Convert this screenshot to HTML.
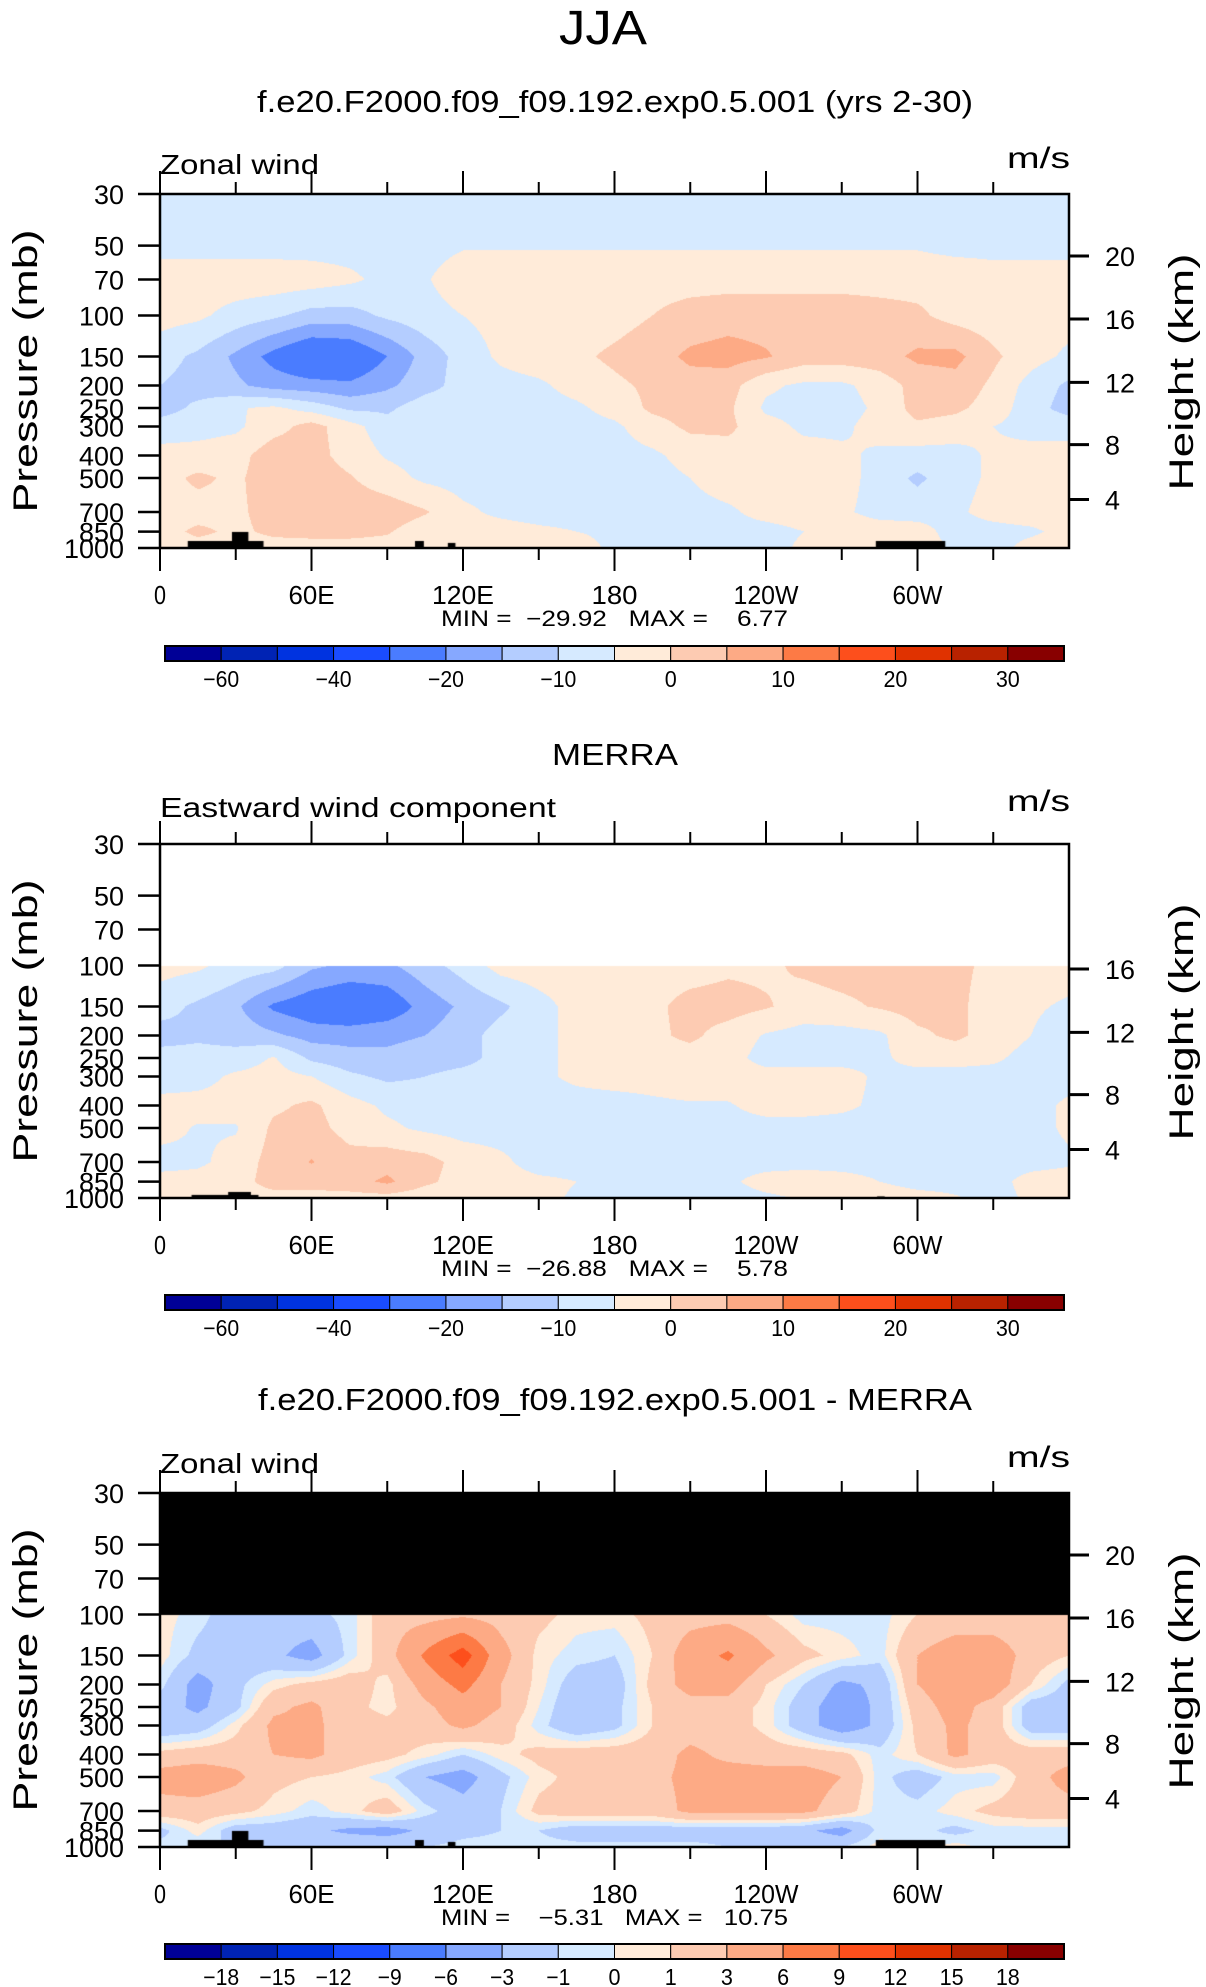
<!DOCTYPE html>
<html><head><meta charset="utf-8"><title>JJA Zonal wind</title>
<style>
html,body{margin:0;padding:0;background:#fff;}
#wrap{position:relative;width:1206px;height:1987px;overflow:hidden;background:#fff;}
canvas{position:absolute;}
svg{position:absolute;left:0;top:0;}
text{font-family:"Liberation Sans",sans-serif;fill:#000;white-space:pre;}
</style></head>
<body>
<div id="wrap">
<canvas id="c1"></canvas>
<canvas id="c2"></canvas>
<canvas id="c3"></canvas>
<svg id="svg" width="1206" height="1987"></svg>
</div>
<script>
// ---------- data ----------
const lons = [0,15,30,45,60,75,90,105,120,135,150,165,180,195,210,225,240,255,270,285,300,315,330,345,360];
const pressures = [30,50,70,100,150,200,250,300,400,500,700,850,1000];
const windLevels = [-60,-50,-40,-30,-20,-15,-10,-5,0,5,10,15,20,25,30];
const windLabels = ["-60","-40","-20","-10","0","10","20","30"];
const windLabelIdx = [0,2,4,6,8,10,12,14];
const diffLevels = [-18,-15,-12,-9,-6,-3,-1,0,1,3,6,9,12,15,18];
const diffLabels = ["-18","-15","-12","-9","-6","-3","-1","0","1","3","6","9","12","15","18"];
const diffLabelIdx = [0,1,2,3,4,5,6,7,8,9,10,11,12,13,14];
const fillColors = ['#000096','#0023b4','#0033e0','#1a4cff','#4a7cff','#86a8ff','#b4cdff','#d6eaff','#ffebd9','#fdcbb2','#fdaa85','#fd7a45','#fd4f1c','#e03200','#b82200','#880000'];

const modelWind = [
 [-7,-7,-7,-7,-7,-7,-7,-7,-7,-7,-7,-7,-7,-7,-7,-7,-7,-7,-7,-7,-7,-7,-7,-7,-7],
 [-7,-7,-7,-7,-7,-7,-7,-7,-5.5,-5.5,-5.5,-5.5,-5.5,-5.5,-5.5,-5.5,-5.5,-5.5,-5.5,-5.5,-5.5,-6.5,-6.5,-6.5,-6.5],
 [-2,-2,-2,-2,-2.5,-4,-6.5,-5.5,-2,-2,-2,-2,-2,-2,-2,-2,-2,-2,-2,-2,-2,-2,-3,-3,-3],
 [-3,-4,-7,-9,-12,-12,-9,-7,-5,-3,-3,-3,-2,0,2,3,3,3,3,2,1,-2,-3,-3,-3],
 [-8,-11,-16,-22,-27,-26,-20,-13,-8,-4,-2,-1,1,3,6,7,5.5,2.5,2.5,3,6,6.5,1,-3,-6],
 [-10,-12,-14,-17,-18,-19,-16,-12,-8,-7,-6,-3,-1,1,3,2,-4,-6,-6,-3,2,3,-1,-7,-11],
 [-12,-9,-5.5,-4,-7,-11,-11,-7,-7,-7,-7,-6,-3,1,2,1,-6,-7,-7,-4,2,1,-2,-8,-12],
 [-8,-7,-6,-2,2,-3,-8,-7,-7,-7,-7,-7,-6,-2,1,1,-3,-6,-6,-3,-1,-2,-5,-7,-7],
 [-3,-3,-2,3,2,-2,-5.5,-7,-7,-7,-7,-7,-7,-6,-3,-2,-2,-3,-4,-6,-7,-7,-4,-3,-3],
 [-2,1,-1,3,3,0.5,-3,-6,-7,-7,-7,-7,-7,-7,-5,-2,-2,-2,-3,-7,-11,-7,-4,-2,-2],
 [-2,-2,-1,2,3,3,3,0.5,-4,-6,-7,-7,-7,-7,-7,-6,-3,-2,-4,-7,-7,-6,-3,-2,-2],
 [-2,1,-1,1,1.5,1.5,0.5,-3,-3,-3,-4,-5,-6,-7,-7,-7,-7,-5,-2,-2,-3,-7,-7,-6,-3],
 [-2,-2,-2,-2,-2,-2,-2,-2,-3,-3,-3,-3,-6,-7,-7,-7,-7,-4,-2,-2,-2,-6,-7,-3,-2]
];
const merraWind = [
 null,null,null,
 [-3,-4,-7,-8,-14,-16,-16,-12,-8,-3,-2,-2,-2,-2,-2,-1,-1,1,2,2,2,1,-1,-2,-2],
 [-8,-11,-14,-21,-24,-26,-24,-18,-14,-11,-7,-3,-2,-1,1.5,2,0.5,-2,-1,0.5,2,1,-2,-4,-6],
 [-12,-11,-12,-14,-17,-17,-16,-15,-12,-8,-6,-4,-2,-1,1,-2,-5.5,-7,-7,-6,-1,1,-2,-5,-9],
 [-8,-8,-8,-4.5,-11,-13,-14,-13,-12,-8,-6,-4,-3,-2,-2,-3,-7,-7,-7,-6,-3,-3,-4,-7,-7],
 [-8,-7,-4,-3,-5,-9,-11,-10,-8,-7,-6,-4,-3,-3,-2,-2,-3,-3,-3,-6,-7,-7,-7,-7,-7],
 [-3,-3,-3,-1,1,-3,-6,-7,-7,-7,-7,-7,-7,-6,-5.5,-5.5,-3,-3,-4,-6,-7,-7,-7,-7,-4],
 [-3,-5.5,-5.5,1,2,-2,-4,-6,-7,-7,-7,-7,-7,-7,-7,-7,-7,-7,-7,-7,-7,-7,-7,-7,-4],
 [-7,-6,-3,2,5.3,2,3,2,-2,-4,-7,-7,-7,-7,-7,-7,-7,-7,-7,-7,-8,-7,-7,-7,-6],
 [-3,-3,-2,2,2,3,6,1,-2,-3,-4,-5,-7,-7,-7,-6,-3,-2,-3,-5,-7,-7,-7,-3,-2],
 [-2,-2,-2,-2,-2,-2,-2,-3,-3,-4,-4,-5.5,-6,-7,-7,-7,-6,-4.5,-2,-2,-3,-4.5,-7,-4,-2]
];
const diffWind = [
 null,null,null,
 [0.5,-0.5,-2,-2,-1.5,-0.5,2,2,2.5,2,1.5,0.5,0.5,1.5,2,2,1,-0.5,-0.5,-0.5,1,1.5,1.5,1.5,1],
 [0.5,-1.5,-2,-2.5,-4,-0.5,2,6.5,10.5,4,0.5,-0.5,-1,1,4.5,6.5,3.5,1.5,0.5,-0.5,3,4.5,4.5,2,1],
 [-0.5,-4,-1.5,0.5,1.5,2,0.5,4,7,3,0.5,-2,-2,1.5,4,4,1,-1,-3.5,-2.5,3,4.5,4.5,1,-1.5],
 [-2,-3.5,-1.5,2.5,3.5,1.5,0.5,2.5,4.5,3,0,-2.5,-1.5,1,2,2,0.5,-2,-4.5,-2.5,2,4,2,-2,-2],
 [-2.5,-2,0.5,3.5,3.5,2,1.5,2,3.5,2,-0.5,-2.5,-1.5,1,2,2,0.5,-2,-4.5,-2.5,1.5,3.5,2,-2,-2],
 [1.5,2,2,3,3.5,2,1.5,0.5,-1,0.5,1.5,2,2,2,3.5,2.5,2,2,1.5,-0.5,1,3.5,2,2,2],
 [4,4.5,3.5,1.5,1,0.5,-0.5,-3,-4,-1.5,0.5,1.5,2,2.5,3.5,4,4,4,3,-0.5,-2,-0.5,-0.5,2,4],
 [2,2,1.5,0.5,-0.5,0.5,2,-0.5,-2,-1,1.5,2,2,2,3.5,3.5,3.5,3.5,2,-0.5,-0.5,0.5,1.5,2,2],
 [-1.5,0.5,-2,-2,-2.5,-3.5,-4,-2.5,-1.5,-1,-1,-2,-2,-2,-2,-2,-2,-2.5,-4,-0.5,-0.5,-1.5,-0.5,-0.5,-0.5],
 [-0.5,-1,-1,-1,-1,-1,-1,-1,-0.5,-0.5,-0.5,-0.5,-0.5,-0.5,-0.5,-1,-1,-1,-1,0.5,-0.5,0.5,-0.5,-0.5,-0.5]
];
// topography blocks: [lonStart, lonEnd, topPressure]
const topoModel = [[11,41,933],[28.5,35,853],[101,104.5,933],[114,117,951],[283.5,311,933]];
const topoMerra = [[12.5,39,970],[27,36,942],[284,287,985]];

// ---------- layout ----------
const PL=160, PR=1069, PH=354;
const panels = [
 {id:'c1', top:194, data:modelWind, levels:windLevels, nullColor:[255,255,255], topo:topoModel,
  title:'f.e20.F2000.f09_f09.192.exp0.5.001 (yrs 2-30)', titleW:716, titleY:112, name:'model',
  left:'Zonal wind', leftW:159, leftY:174, heights:[20,16,12,8,4],
  minmax:'MIN =  \u221229.92   MAX =    6.77', cbY:646, cbLabels:windLabels, cbIdx:windLabelIdx},
 {id:'c2', top:844, data:merraWind, levels:windLevels, nullColor:[255,255,255], topo:topoMerra,
  title:'MERRA', titleW:126, titleY:765, name:'merra',
  left:'Eastward wind component', leftW:396, leftY:817, heights:[16,12,8,4],
  minmax:'MIN =  \u221226.88   MAX =    5.78', cbY:1295, cbLabels:windLabels, cbIdx:windLabelIdx},
 {id:'c3', top:1493, data:diffWind, levels:diffLevels, nullColor:[0,0,0], topo:topoModel,
  title:'f.e20.F2000.f09_f09.192.exp0.5.001 - MERRA', titleW:714, titleY:1410, name:'difference',
  left:'Zonal wind', leftW:159, leftY:1473, heights:[20,16,12,8,4],
  minmax:'MIN =    \u22125.31   MAX =   10.75', cbY:1944, cbLabels:diffLabels, cbIdx:diffLabelIdx}
];
const heightFrac = {20:0.175,16:0.353,12:0.532,8:0.708,4:0.863};
const lnTop=Math.log(30), lnBot=Math.log(1000);
function yOfP(p,top){return top+(Math.log(p)-lnTop)/(lnBot-lnTop)*PH;}
function xOfLon(l){return PL+l/360*(PR-PL);}
function hexRgb(h){return [parseInt(h.substr(1,2),16),parseInt(h.substr(3,2),16),parseInt(h.substr(5,2),16)];}
const rgbs = fillColors.map(hexRgb);
function levelIndex(v,levels){let k=0;for(let i=0;i<levels.length;i++){if(v>=levels[i])k=i+1;}return k;}

// ---------- contour rendering ----------
panels.forEach(P=>{
  const W=PR-PL, H=PH;
  const cv=document.getElementById(P.id);
  cv.width=W; cv.height=H; cv.style.left=PL+'px'; cv.style.top=P.top+'px';
  const ctx=cv.getContext('2d');
  const img=ctx.createImageData(W,H);
  const lnP=pressures.map(Math.log);
  for(let py=0;py<H;py++){
    const lp=lnTop+(py+0.5)/H*(lnBot-lnTop);
    let r=0; while(r<pressures.length-2 && lp>lnP[r+1]) r++;
    const t=(lp-lnP[r])/(lnP[r+1]-lnP[r]);
    const rowA=P.data[r], rowB=P.data[r+1];
    for(let px=0;px<W;px++){
      const o=(py*W+px)*4;
      let c;
      if(!rowA||!rowB){c=P.nullColor;}
      else{
        const lo=(px+0.5)/W*360;
        let ci=Math.min(Math.floor(lo/15),lons.length-2);
        const s=(lo-lons[ci])/15;
        const a=rowA[ci]*(1-s)+rowA[ci+1]*s;
        const b=rowB[ci]*(1-s)+rowB[ci+1]*s;
        const v=a*(1-t)+b*t;
        c=rgbs[levelIndex(v,P.levels)];
      }
      img.data[o]=c[0];img.data[o+1]=c[1];img.data[o+2]=c[2];img.data[o+3]=255;
    }
  }
  ctx.putImageData(img,0,0);
  ctx.fillStyle='#000';
  P.topo.forEach(tb=>{
    const x0=(tb[0]/360)*W, x1=(tb[1]/360)*W;
    const y0=yOfP(tb[2],0);
    ctx.fillRect(x0,y0,x1-x0,H-y0);
  });
});

// ---------- SVG overlay ----------
const NS='http://www.w3.org/2000/svg';
const svg=document.getElementById('svg');
function el(tag,attrs,parent){const e=document.createElementNS(NS,tag);for(const k in attrs)e.setAttribute(k,attrs[k]);(parent||svg).appendChild(e);return e;}
function txt(str,attrs,parent){const e=el('text',attrs,parent);e.setAttributeNS('http://www.w3.org/XML/1998/namespace','xml:space','preserve');e.textContent=str;return e;}

const main=txt('JJA',{x:603,y:44,'font-size':48,'text-anchor':'middle',textLength:88,lengthAdjust:'spacingAndGlyphs'});



const xTickLabels=['0','60E','120E','180','120W','60W'];
const xTickW=[12,46,62,46,65,50];
const pLabels=['30','50','70','100','150','200','250','300','400','500','700','850','1000'];

panels.forEach(P=>{
  const g=el('g',{});
  
  
  const T=P.top, B=P.top+PH;
  const t1=txt(P.title,{x:615,y:P.titleY,'font-size':31,'text-anchor':'middle',textLength:P.titleW,lengthAdjust:'spacingAndGlyphs'},g);
  
  
  const lt=txt(P.left,{x:PL,y:P.leftY,'font-size':28,textLength:P.leftW,lengthAdjust:'spacingAndGlyphs'},g);
  
  
  const un=txt('m/s',{x:1007,y:P.leftY-6,'font-size':30,textLength:63,lengthAdjust:'spacingAndGlyphs'},g);
  
  
  const fr=el('rect',{x:PL,y:T,width:PR-PL,height:PH,fill:'none',stroke:'#000','stroke-width':2.5},g);
  
  
  for(let lon=0;lon<360;lon+=30){
    const x=xOfLon(lon), major=(lon%60===0), len=major?23:12;
    const a=el('line',{x1:x,y1:T,x2:x,y2:T-len,stroke:'#000','stroke-width':2},g);
    
    
    const b=el('line',{x1:x,y1:B,x2:x,y2:B+len,stroke:'#000','stroke-width':2},g);
    
    
  }
  xTickLabels.forEach((s,i)=>{
    const l=txt(s,{x:xOfLon(i*60),y:B+56,'font-size':26,'text-anchor':'middle',textLength:xTickW[i],lengthAdjust:'spacingAndGlyphs'},g);
    
    
  });
  pressures.forEach((p,i)=>{
    const y=yOfP(p,T);
    const tk=el('line',{x1:PL-22,y1:y,x2:PL,y2:y,stroke:'#000','stroke-width':2.5},g);
    
    
    const s=pLabels[i];
    const l=txt(s,{x:124,y:y+10,'font-size':27,'text-anchor':'end',textLength:s.length*15,lengthAdjust:'spacingAndGlyphs'},g);
    
    
  });
  P.heights.forEach(h=>{
    const y=T+heightFrac[h]*PH;
    const tk=el('line',{x1:PR,y1:y,x2:PR+20,y2:y,stroke:'#000','stroke-width':3},g);
    
    
    const s=String(h);
    const l=txt(s,{x:1105,y:y+10,'font-size':27,textLength:s.length*15,lengthAdjust:'spacingAndGlyphs'},g);
    
    
  });
  const cy=(T+B)/2;
  const yt=txt('Pressure (mb)',{x:0,y:0,'font-size':34,'text-anchor':'middle',textLength:283,lengthAdjust:'spacingAndGlyphs',transform:'translate(37,'+cy+') rotate(-90)'},g);
  
  
  const rt=txt('Height (km)',{x:0,y:0,'font-size':34,'text-anchor':'middle',textLength:237,lengthAdjust:'spacingAndGlyphs',transform:'translate(1193,'+(cy+1)+') rotate(-90)'},g);
  
  
  const mm=txt(P.minmax,{x:441,y:B+78,'font-size':22,textLength:347,lengthAdjust:'spacingAndGlyphs'},g);
  
  
  const cbL=165, cbR=1064, cbW=(cbR-cbL)/16, cbT=P.cbY, cbH=15;
  const cb=el('g',{},g);
  
  
  fillColors.forEach((c,i)=>{
    const r=el('rect',{x:cbL+i*cbW,y:cbT,width:cbW,height:cbH,fill:c,stroke:'#000','stroke-width':1},cb);
    
    
  });
  el('rect',{x:cbL,y:cbT,width:cbR-cbL,height:cbH,fill:'none',stroke:'#000','stroke-width':2},cb);
  P.cbLabels.forEach((s,i)=>{
    const x=cbL+(P.cbIdx[i]+1)*cbW;
    const w=s.replace('-','').length*12+(s[0]==='-'?12:0);
    const l=txt(s.replace('-','\u2212'),{x:x,y:cbT+41,'font-size':23,'text-anchor':'middle',textLength:w,lengthAdjust:'spacingAndGlyphs'},cb);
    
    
  });
});
</script>
</body></html>
